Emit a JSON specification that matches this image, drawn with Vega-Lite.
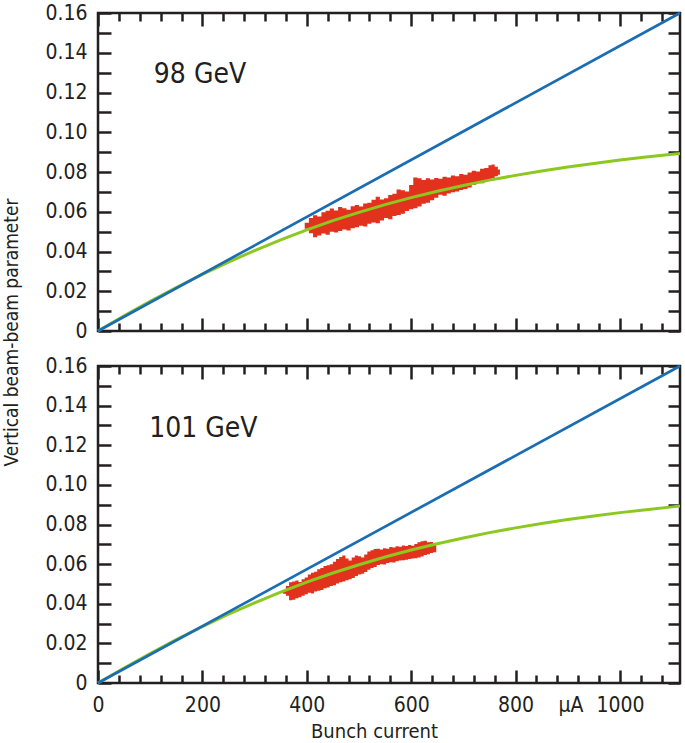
{
  "$schema": "https://vega.github.io/schema/vega-lite/v6.json",
  "padding": 0,
  "autosize": {"type": "pad"},
  "background": "white",
  "datasets": {
    "blue": [{"x": 0, "y": 0}, {"x": 1115, "y": 0.16}],
    "green": [
      {"x": 0, "y": 0}, {"x": 50, "y": 0.0076}, {"x": 100, "y": 0.0149}, {"x": 150, "y": 0.0219},
      {"x": 200, "y": 0.0285}, {"x": 250, "y": 0.0347}, {"x": 300, "y": 0.0405}, {"x": 350, "y": 0.0459},
      {"x": 400, "y": 0.0509}, {"x": 450, "y": 0.0555}, {"x": 500, "y": 0.0597}, {"x": 550, "y": 0.0636},
      {"x": 600, "y": 0.0671}, {"x": 650, "y": 0.0703}, {"x": 700, "y": 0.0732}, {"x": 750, "y": 0.0759},
      {"x": 800, "y": 0.0783}, {"x": 850, "y": 0.0805}, {"x": 900, "y": 0.0825}, {"x": 950, "y": 0.0843},
      {"x": 1000, "y": 0.0860}, {"x": 1050, "y": 0.0875}, {"x": 1100, "y": 0.0889}, {"x": 1115, "y": 0.0893}
    ],
    "band98": [
      {"x": 396, "lo": 0.0515, "hi": 0.0545}, {"x": 404, "lo": 0.0492, "hi": 0.0568}, {"x": 412, "lo": 0.0472, "hi": 0.0582},
      {"x": 420, "lo": 0.0480, "hi": 0.0576}, {"x": 428, "lo": 0.0490, "hi": 0.0598}, {"x": 436, "lo": 0.0484, "hi": 0.0605},
      {"x": 444, "lo": 0.0500, "hi": 0.0616}, {"x": 452, "lo": 0.0495, "hi": 0.0606}, {"x": 460, "lo": 0.0503, "hi": 0.0624},
      {"x": 468, "lo": 0.0511, "hi": 0.0618}, {"x": 476, "lo": 0.0506, "hi": 0.0610}, {"x": 484, "lo": 0.0517, "hi": 0.0628},
      {"x": 492, "lo": 0.0522, "hi": 0.0634}, {"x": 500, "lo": 0.0530, "hi": 0.0627}, {"x": 508, "lo": 0.0526, "hi": 0.0641},
      {"x": 516, "lo": 0.0540, "hi": 0.0645}, {"x": 524, "lo": 0.0546, "hi": 0.0660}, {"x": 532, "lo": 0.0542, "hi": 0.0675},
      {"x": 540, "lo": 0.0556, "hi": 0.0662}, {"x": 548, "lo": 0.0568, "hi": 0.0668}, {"x": 556, "lo": 0.0562, "hi": 0.0684},
      {"x": 564, "lo": 0.0578, "hi": 0.0690}, {"x": 572, "lo": 0.0584, "hi": 0.0712}, {"x": 580, "lo": 0.0590, "hi": 0.0708},
      {"x": 588, "lo": 0.0604, "hi": 0.0702}, {"x": 596, "lo": 0.0612, "hi": 0.0735}, {"x": 604, "lo": 0.0618, "hi": 0.0772},
      {"x": 612, "lo": 0.0626, "hi": 0.0768}, {"x": 620, "lo": 0.0640, "hi": 0.0760}, {"x": 628, "lo": 0.0645, "hi": 0.0768},
      {"x": 636, "lo": 0.0658, "hi": 0.0762}, {"x": 644, "lo": 0.0670, "hi": 0.0770}, {"x": 652, "lo": 0.0686, "hi": 0.0766},
      {"x": 660, "lo": 0.0680, "hi": 0.0776}, {"x": 668, "lo": 0.0692, "hi": 0.0772}, {"x": 676, "lo": 0.0698, "hi": 0.0782},
      {"x": 684, "lo": 0.0702, "hi": 0.0778}, {"x": 692, "lo": 0.0710, "hi": 0.0790}, {"x": 700, "lo": 0.0714, "hi": 0.0786},
      {"x": 708, "lo": 0.0722, "hi": 0.0798}, {"x": 716, "lo": 0.0735, "hi": 0.0806}, {"x": 724, "lo": 0.0746, "hi": 0.0802},
      {"x": 732, "lo": 0.0744, "hi": 0.0816}, {"x": 740, "lo": 0.0756, "hi": 0.0820}, {"x": 748, "lo": 0.0764, "hi": 0.0834},
      {"x": 754, "lo": 0.0770, "hi": 0.0838}, {"x": 760, "lo": 0.0778, "hi": 0.0826}, {"x": 766, "lo": 0.0786, "hi": 0.0812},
      {"x": 770, "lo": 0.0795, "hi": 0.0803}
    ],
    "band101": [
      {"x": 354, "lo": 0.0450, "hi": 0.0470}, {"x": 360, "lo": 0.0440, "hi": 0.0490}, {"x": 366, "lo": 0.0418, "hi": 0.0508},
      {"x": 372, "lo": 0.0420, "hi": 0.0512}, {"x": 378, "lo": 0.0428, "hi": 0.0517}, {"x": 384, "lo": 0.0433, "hi": 0.0510},
      {"x": 390, "lo": 0.0440, "hi": 0.0524}, {"x": 396, "lo": 0.0448, "hi": 0.0532}, {"x": 402, "lo": 0.0456, "hi": 0.0548},
      {"x": 408, "lo": 0.0452, "hi": 0.0556}, {"x": 414, "lo": 0.0462, "hi": 0.0562}, {"x": 420, "lo": 0.0466, "hi": 0.0574},
      {"x": 426, "lo": 0.0470, "hi": 0.0580}, {"x": 432, "lo": 0.0478, "hi": 0.0590}, {"x": 438, "lo": 0.0482, "hi": 0.0594},
      {"x": 444, "lo": 0.0490, "hi": 0.0600}, {"x": 450, "lo": 0.0494, "hi": 0.0612}, {"x": 456, "lo": 0.0502, "hi": 0.0626},
      {"x": 462, "lo": 0.0508, "hi": 0.0636}, {"x": 468, "lo": 0.0512, "hi": 0.0643}, {"x": 474, "lo": 0.0518, "hi": 0.0628},
      {"x": 480, "lo": 0.0524, "hi": 0.0618}, {"x": 486, "lo": 0.0530, "hi": 0.0634}, {"x": 492, "lo": 0.0540, "hi": 0.0644},
      {"x": 498, "lo": 0.0548, "hi": 0.0640}, {"x": 504, "lo": 0.0552, "hi": 0.0634}, {"x": 510, "lo": 0.0560, "hi": 0.0648},
      {"x": 516, "lo": 0.0572, "hi": 0.0664}, {"x": 522, "lo": 0.0580, "hi": 0.0670}, {"x": 528, "lo": 0.0586, "hi": 0.0676},
      {"x": 534, "lo": 0.0596, "hi": 0.0678}, {"x": 540, "lo": 0.0600, "hi": 0.0674}, {"x": 546, "lo": 0.0598, "hi": 0.0680},
      {"x": 552, "lo": 0.0606, "hi": 0.0678}, {"x": 558, "lo": 0.0610, "hi": 0.0686}, {"x": 564, "lo": 0.0608, "hi": 0.0684},
      {"x": 570, "lo": 0.0614, "hi": 0.0690}, {"x": 576, "lo": 0.0618, "hi": 0.0688}, {"x": 582, "lo": 0.0620, "hi": 0.0694},
      {"x": 588, "lo": 0.0622, "hi": 0.0692}, {"x": 594, "lo": 0.0626, "hi": 0.0696}, {"x": 600, "lo": 0.0628, "hi": 0.0693},
      {"x": 606, "lo": 0.0630, "hi": 0.0702}, {"x": 612, "lo": 0.0634, "hi": 0.0710}, {"x": 618, "lo": 0.0638, "hi": 0.0716},
      {"x": 624, "lo": 0.0646, "hi": 0.0718}, {"x": 630, "lo": 0.0650, "hi": 0.0710}, {"x": 636, "lo": 0.0656, "hi": 0.0712},
      {"x": 642, "lo": 0.0660, "hi": 0.0700}, {"x": 648, "lo": 0.0668, "hi": 0.0684}
    ]
  },
  "vconcat": [
    {
      "width": 582,
      "height": 318,
      "resolve": {"axis": {"x": "independent", "y": "independent"}},
      "layer": [
        {
          "data": {"name": "band98"},
          "mark": {"type": "area", "color": "#e2321e", "interpolate": "step-after", "opacity": 1},
          "encoding": {
            "x": {"field": "x", "type": "quantitative", "scale": {"domain": [0, 1115], "nice": false},
                  "axis": {"orient": "top", "values": [40, 80, 120, 160, 240, 280, 320, 360, 440, 480, 520, 560, 640, 680, 720, 760, 840, 880, 920, 960, 1040, 1080], "tickSize": -8, "labels": false, "title": null}},
            "y": {"field": "lo", "type": "quantitative", "scale": {"domain": [0, 0.16], "nice": false}, "axis": null},
            "y2": {"field": "hi"}
          }
        },
        {
          "data": {"name": "green"},
          "mark": {"type": "line", "color": "#8cc820", "strokeWidth": 3},
          "encoding": {
            "x": {"field": "x", "type": "quantitative", "scale": {"domain": [0, 1115], "nice": false},
                  "axis": {"orient": "bottom", "values": [40, 80, 120, 160, 240, 280, 320, 360, 440, 480, 520, 560, 640, 680, 720, 760, 840, 880, 920, 960, 1040, 1080], "tickSize": -8, "labels": false, "title": null}},
            "y": {"field": "y", "type": "quantitative", "scale": {"domain": [0, 0.16], "nice": false},
                  "axis": {"orient": "right", "values": [0, 0.01, 0.02, 0.03, 0.04, 0.05, 0.06, 0.07, 0.08, 0.09, 0.1, 0.11, 0.12, 0.13, 0.14, 0.15, 0.16], "tickSize": -12, "labels": false, "title": null}}
          }
        },
        {
          "data": {"name": "blue"},
          "mark": {"type": "line", "color": "#1a6db3", "strokeWidth": 2.7},
          "encoding": {
            "x": {"field": "x", "type": "quantitative", "scale": {"domain": [0, 1115], "nice": false},
                  "axis": {"orient": "bottom", "values": [0, 200, 400, 600, 800, 1000], "tickSize": -13, "labels": false, "title": null}},
            "y": {"field": "y", "type": "quantitative", "scale": {"domain": [0, 0.16], "nice": false},
                  "axis": {"orient": "left", "values": [0, 0.01, 0.02, 0.03, 0.04, 0.05, 0.06, 0.07, 0.08, 0.09, 0.1, 0.11, 0.12, 0.13, 0.14, 0.15, 0.16],
                           "tickSize": -13, "labelPadding": 24, "labelOverlap": false,
                           "labelExpr": "datum.value == 0 ? '0' : (round(datum.value * 100) % 2 == 0 ? format(datum.value, '.2f') : '')",
                           "title": "Vertical beam-beam parameter", "titleFontSize": 19, "titleX": -87, "titleY": 319,
                           "titleAngle": -90, "titleAlign": "center", "titleBaseline": "middle"}}
          }
        },
        {
          "data": {"values": [{"x": 107, "y": 0.1248, "label": "98 GeV"}]},
          "mark": {"type": "text", "align": "left", "baseline": "alphabetic", "fontSize": 28, "color": "#231f20"},
          "encoding": {
            "x": {"field": "x", "type": "quantitative", "scale": {"domain": [0, 1115], "nice": false},
                  "axis": {"orient": "top", "values": [0, 200, 400, 600, 800, 1000], "tickSize": -13, "labels": false, "title": null}},
            "y": {"field": "y", "type": "quantitative", "scale": {"domain": [0, 0.16], "nice": false}, "axis": null},
            "text": {"field": "label"}
          }
        }
      ]
    },
    {
      "width": 582,
      "height": 317,
      "resolve": {"axis": {"x": "independent", "y": "independent"}},
      "layer": [
        {
          "data": {"name": "band101"},
          "mark": {"type": "area", "color": "#e2321e", "interpolate": "step-after", "opacity": 1},
          "encoding": {
            "x": {"field": "x", "type": "quantitative", "scale": {"domain": [0, 1115], "nice": false},
                  "axis": {"orient": "top", "values": [40, 80, 120, 160, 240, 280, 320, 360, 440, 480, 520, 560, 640, 680, 720, 760, 840, 880, 920, 960, 1040, 1080], "tickSize": -8, "labels": false, "title": null}},
            "y": {"field": "lo", "type": "quantitative", "scale": {"domain": [0, 0.16], "nice": false}, "axis": null},
            "y2": {"field": "hi"}
          }
        },
        {
          "data": {"name": "green"},
          "mark": {"type": "line", "color": "#8cc820", "strokeWidth": 3},
          "encoding": {
            "x": {"field": "x", "type": "quantitative", "scale": {"domain": [0, 1115], "nice": false},
                  "axis": {"orient": "bottom", "values": [40, 80, 120, 160, 240, 280, 320, 360, 440, 480, 520, 560, 640, 680, 720, 760, 840, 880, 920, 960, 1040, 1080], "tickSize": -8, "labels": false, "title": null}},
            "y": {"field": "y", "type": "quantitative", "scale": {"domain": [0, 0.16], "nice": false},
                  "axis": {"orient": "right", "values": [0, 0.01, 0.02, 0.03, 0.04, 0.05, 0.06, 0.07, 0.08, 0.09, 0.1, 0.11, 0.12, 0.13, 0.14, 0.15, 0.16], "tickSize": -12, "labels": false, "title": null}}
          }
        },
        {
          "data": {"name": "blue"},
          "mark": {"type": "line", "color": "#1a6db3", "strokeWidth": 2.7},
          "encoding": {
            "x": {"field": "x", "type": "quantitative", "scale": {"domain": [0, 1115], "nice": false},
                  "axis": {"orient": "bottom", "values": [0, 200, 400, 600, 800, 1000], "format": "d", "tickSize": -13, "labelPadding": 24, "labelFlush": false, "labelOverlap": false,
                           "title": "Bunch current", "titleX": 276, "titleFontSize": 20, "titlePadding": 6}},
            "y": {"field": "y", "type": "quantitative", "scale": {"domain": [0, 0.16], "nice": false},
                  "axis": {"orient": "left", "values": [0, 0.01, 0.02, 0.03, 0.04, 0.05, 0.06, 0.07, 0.08, 0.09, 0.1, 0.11, 0.12, 0.13, 0.14, 0.15, 0.16],
                           "tickSize": -13, "labelPadding": 24, "labelOverlap": false,
                           "labelExpr": "datum.value == 0 ? '0' : (round(datum.value * 100) % 2 == 0 ? format(datum.value, '.2f') : '')",
                           "title": null}}
          }
        },
        {
          "data": {"values": [{"x": 98, "y": 0.1242, "label": "101 GeV"}]},
          "mark": {"type": "text", "align": "left", "baseline": "alphabetic", "fontSize": 28, "color": "#231f20"},
          "encoding": {
            "x": {"field": "x", "type": "quantitative", "scale": {"domain": [0, 1115], "nice": false},
                  "axis": {"orient": "top", "values": [0, 200, 400, 600, 800, 1000], "tickSize": -13, "labels": false, "title": null}},
            "y": {"field": "y", "type": "quantitative", "scale": {"domain": [0, 0.16], "nice": false}, "axis": null},
            "text": {"field": "label"}
          }
        },
        {
          "data": {"values": [{"x": 905, "y": 0.001, "label": ""}]},
          "mark": {"type": "text", "opacity": 0},
          "encoding": {
            "x": {"field": "x", "type": "quantitative", "scale": {"domain": [0, 1115], "nice": false},
                  "axis": {"orient": "bottom", "values": [905], "ticks": false, "labelPadding": 11, "labelFlush": false, "labelExpr": "'μA'", "title": null}},
            "y": {"field": "y", "type": "quantitative", "scale": {"domain": [0, 0.16], "nice": false}, "axis": null},
            "text": {"field": "label"}
          }
        }
      ]
    }
  ],
  "spacing": 35,
  "bounds": "flush",
  "config": {
    "font": "DejaVu Sans Condensed, Roboto Condensed, Roboto",
    "view": {"stroke": "#231f20", "strokeWidth": 2.5},
    "axis": {
      "domain": false, "grid": false,
      "labelFont": "DejaVu Sans Condensed, Roboto Condensed, Roboto", "labelFontSize": 21, "labelColor": "#231f20",
      "tickColor": "#231f20", "tickWidth": 2.5,
      "titleFont": "DejaVu Sans Condensed, Roboto Condensed, Roboto", "titleFontWeight": "normal", "titleColor": "#231f20"
    },
    "text": {"font": "DejaVu Sans Condensed, Roboto Condensed, Roboto"}
  }
}
